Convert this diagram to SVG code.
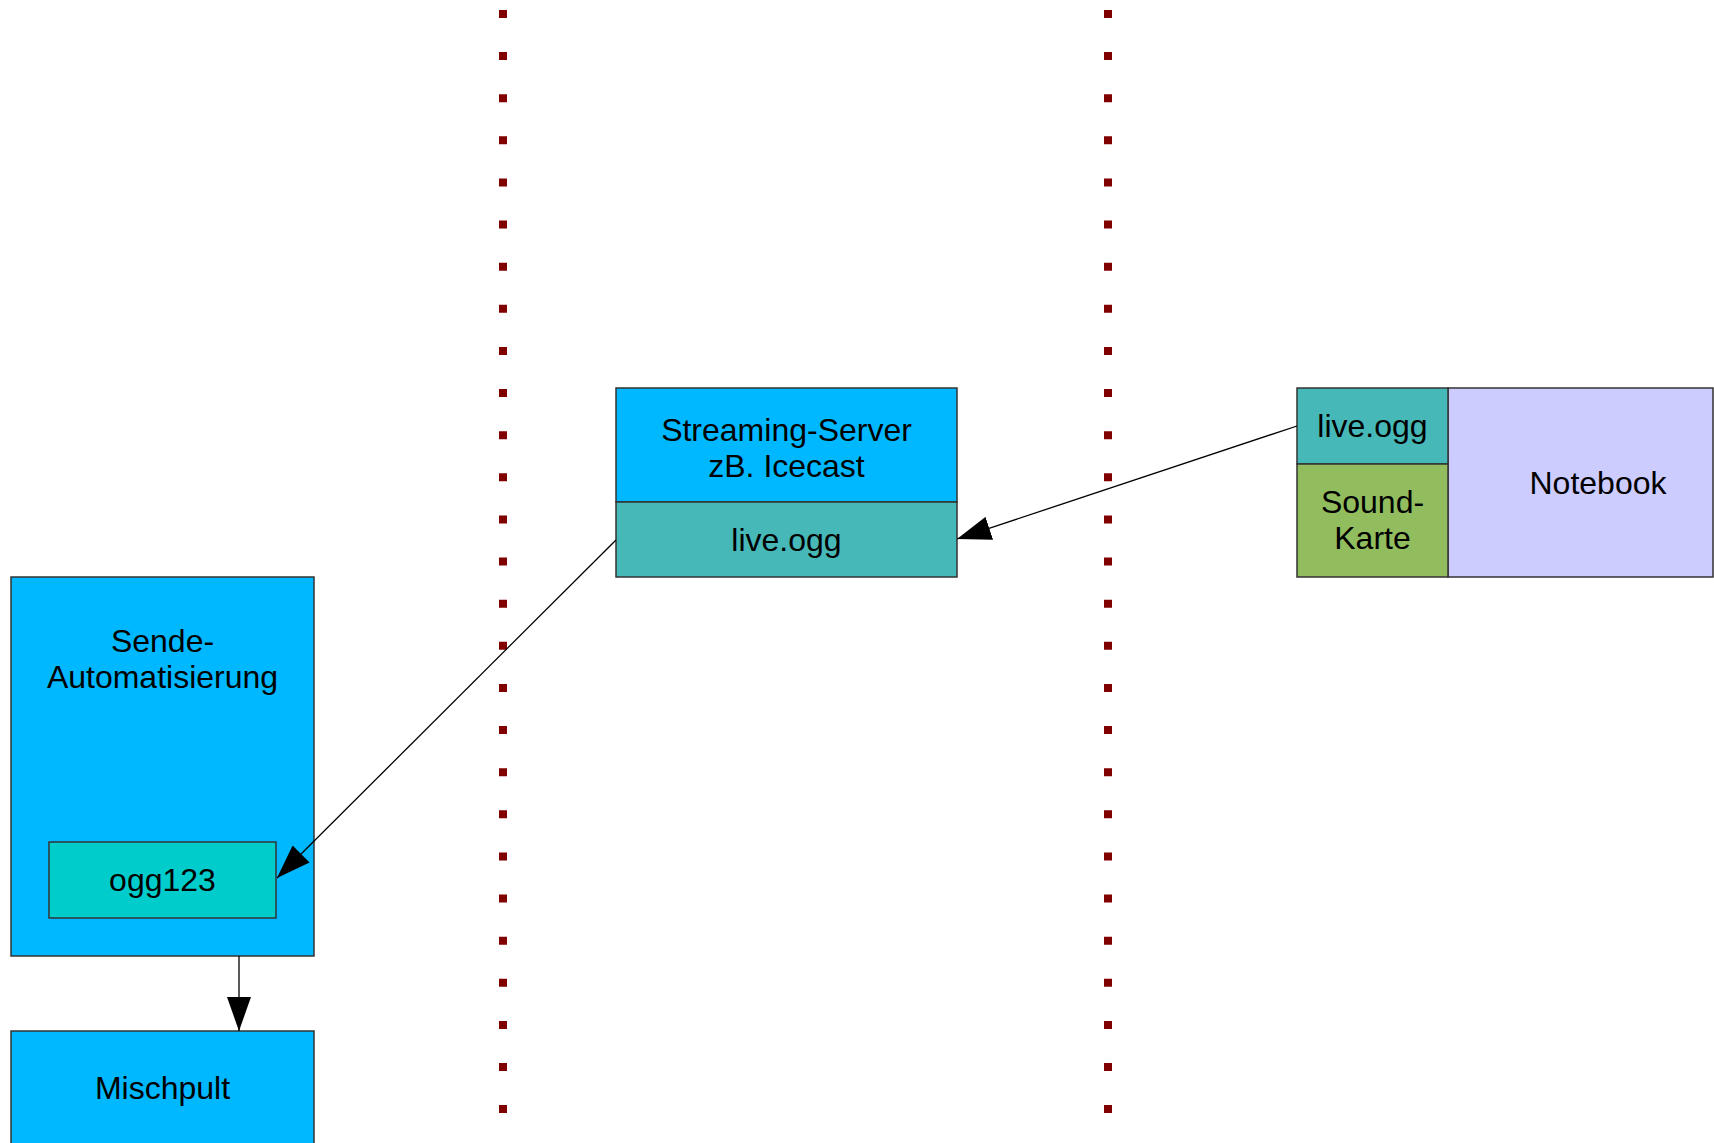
<svg xmlns="http://www.w3.org/2000/svg" width="1714" height="1143" viewBox="0 0 1714 1143">
<style>
.box{stroke:#333;stroke-width:1.5}
.blue{fill:#00b8ff}
.teal{fill:#47b8b8}
.cyan{fill:#00cccc}
.green{fill:#92bd5f}
.lav{fill:#ccccff}
text{font-family:"Liberation Sans",Arial,sans-serif;font-size:32px;fill:#000;text-anchor:middle}
.con{stroke:#000;stroke-width:1.3;fill:none;marker-end:url(#arr)}
.dots{stroke:#800000;stroke-width:8;stroke-dasharray:8 34.12;fill:none}
</style>
<defs>
<marker id="arr" viewBox="0 0 34 24" refX="34" refY="12" markerWidth="34" markerHeight="24" orient="auto" markerUnits="userSpaceOnUse">
<path d="M0,0 L34,12 L0,24 z" fill="#000"/>
</marker>
</defs>
<g id="separators">
<line class="dots" x1="503" y1="10" x2="503" y2="1120"/>
<line class="dots" x1="1108" y1="10" x2="1108" y2="1120"/>
</g>
<g id="streaming-server">
<rect class="box blue" x="616" y="388" width="341" height="114"/>
<text x="786.5" y="441">Streaming-Server</text>
<text x="786.5" y="477">zB. Icecast</text>
</g>
<g id="server-live-ogg">
<rect class="box teal" x="616" y="502" width="341" height="75"/>
<text x="786.5" y="551">live.ogg</text>
</g>
<g id="notebook">
<rect class="box lav" x="1448" y="388" width="265" height="189"/>
<text x="1598" y="494">Notebook</text>
</g>
<g id="notebook-live-ogg">
<rect class="box teal" x="1297" y="388" width="151" height="76"/>
<text x="1372.5" y="437">live.ogg</text>
</g>
<g id="soundkarte">
<rect class="box green" x="1297" y="464" width="151" height="113"/>
<text x="1372.5" y="513">Sound-</text>
<text x="1372.5" y="549">Karte</text>
</g>
<g id="sende-automatisierung">
<rect class="box blue" x="11" y="577" width="303" height="379"/>
<text x="162.5" y="652">Sende-</text>
<text x="162.5" y="688">Automatisierung</text>
</g>
<g id="ogg123">
<rect class="box cyan" x="49" y="842" width="227" height="76"/>
<text x="162.5" y="891">ogg123</text>
</g>
<g id="mischpult">
<rect class="box blue" x="11" y="1031" width="303" height="130"/>
<text x="162.5" y="1099">Mischpult</text>
</g>
<g id="connectors">
<line class="con" x1="1297" y1="426" x2="957" y2="539"/>
<line class="con" x1="616" y1="540" x2="277" y2="878"/>
<line class="con" x1="239" y1="956" x2="239" y2="1031"/>
</g>
</svg>
